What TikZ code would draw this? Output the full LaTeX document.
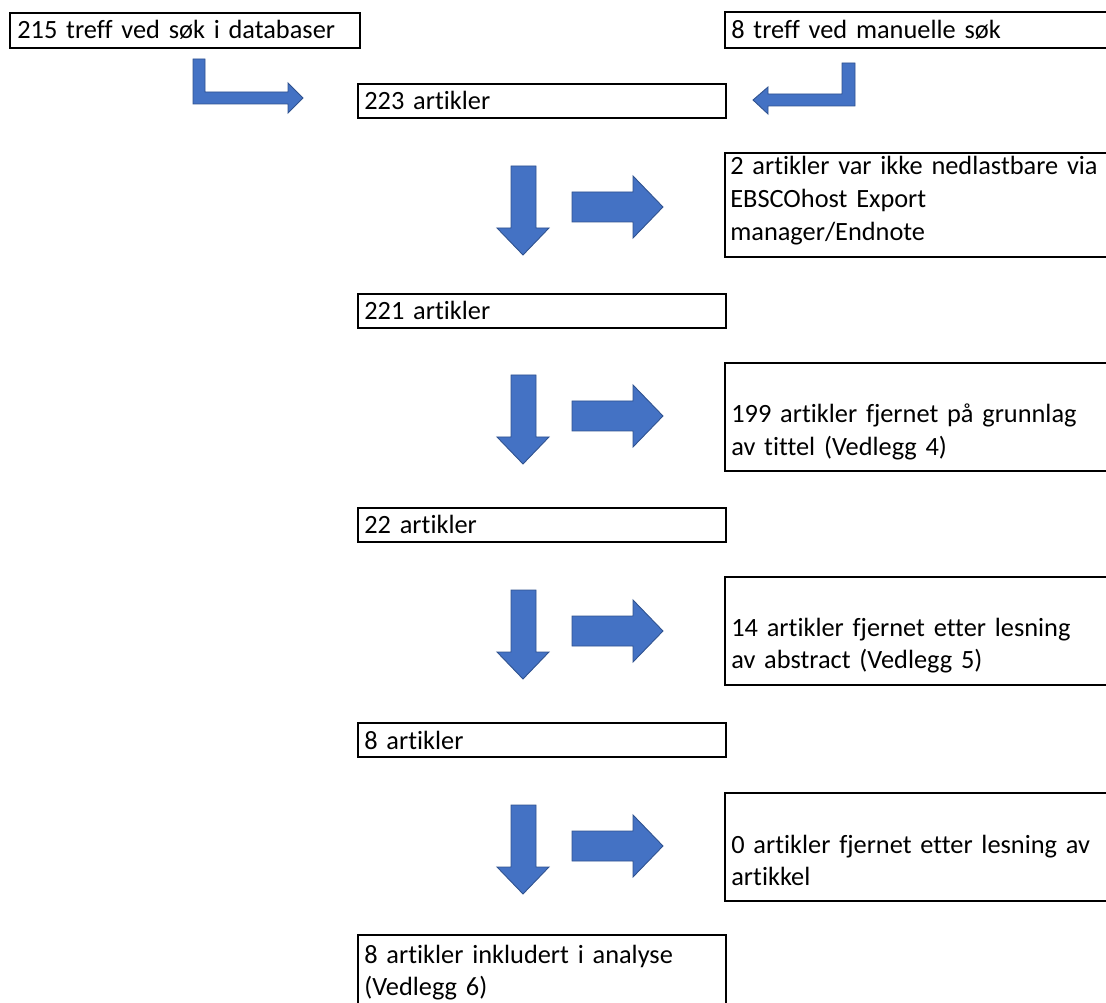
\documentclass[tikz,border=0pt]{standalone}
\usepackage{fontspec}
\setmainfont{Carlito}[Ligatures=NoCommon]
\definecolor{arrowblue}{HTML}{4472C4}
\definecolor{arrowedge}{HTML}{2F528F}
\begin{document}
\begin{tikzpicture}[x=0.02cm, y=-0.02cm, line join=miter,
    box/.style={draw=black, line width=0.8pt, inner sep=0pt, outer sep=0pt, anchor=north west},
    lbox/.style={box, minimum width=7.36cm, minimum height=0.68cm},
    rbox/.style={box, minimum width=8cm, minimum height=2.16cm},
    txt/.style={anchor=base west, inner sep=0pt, align=left, text width=7.8cm,
      font={\fontsize{15pt}{18.7pt}\selectfont}},
    blk/.style={fill=arrowblue, draw=arrowedge, line width=0.5pt}]
  \useasboundingbox (0,0) rectangle (1106,1003);
  % innhenting
  \node[box, minimum width=7cm, minimum height=0.7cm] (db) at (10,13) {};
  \node[txt] (dbt) at ([shift={(7,26)}]db.north west) {215 treff ved søk i databaser};
  \node[box, minimum width=8cm, minimum height=0.72cm] (man) at (725,12) {};
  \node[txt] (mant) at ([shift={(6,27)}]man.north west) {8 treff ved manuelle søk};
  \draw[blk] (193,59) -- (205,59) -- (205,92) -- (288,92) -- (288,83) -- (303,98)
    -- (288,113) -- (288,104) -- (193,104) -- cycle;
  \draw[blk] (842,63) -- (855,63) -- (855,106) -- (768,106) -- (768,114) -- (753,100)
    -- (768,87) -- (768,94) -- (842,94) -- cycle;
  % venstre kolonne
  \node[lbox] (a223) at (358,84) {};
  \node[txt] (a223t) at ([shift={(6,26)}]a223.north west) {223 artikler};
  \node[lbox] (a221) at (358,294) {};
  \node[txt] (a221t) at ([shift={(6,26)}]a221.north west) {221 artikler};
  \node[lbox] (a22) at (358,508) {};
  \node[txt] (a22t) at ([shift={(6,26)}]a22.north west) {22 artikler};
  \node[lbox] (a8) at (358,723) {};
  \node[txt] (a8t) at ([shift={(6,26)}]a8.north west) {8 artikler};
  \node[lbox, minimum height=1.6cm] (incl) at (358,935) {};
  \node[txt] (inclt) at ([shift={(6,28)}]incl.north west) {8 artikler inkludert i analyse\\(Vedlegg 6)};
  % høyre kolonne
  \node[rbox, minimum height=2.08cm] (x2) at (725,153) {};
  \node[txt] (x2t) at ([shift={(5,22)}]x2.north west) {2 artikler var ikke nedlastbare via\\EBSCOhost Export\\manager/Endnote};
  \node[rbox] (x199) at (725,363) {};
  \node[txt] (x199t) at ([shift={(6,60)}]x199.north west) {199 artikler fjernet på grunnlag\\av tittel (Vedlegg 4)};
  \node[rbox] (x14) at (725,577) {};
  \node[txt] (x14t) at ([shift={(6,59)}]x14.north west) {14 artikler fjernet etter lesning\\av abstract (Vedlegg 5)};
  \node[rbox] (x0) at (725,793) {};
  \node[txt] (x0t) at ([shift={(6,60)}]x0.north west) {0 artikler fjernet etter lesning av\\artikkel};
  % piler
  \foreach \dy in {0,209,424,639} {
    \begin{scope}[shift={(0,\dy)}]
      \draw[blk] (511,166) -- (536,166) -- (536,228) -- (549,228) -- (523,255)
        -- (497,228) -- (511,228) -- cycle;
      \draw[blk] (572,192) -- (633,192) -- (633,176) -- (663,207) -- (633,238)
        -- (633,222) -- (572,222) -- cycle;
    \end{scope}
  }
\end{tikzpicture}
\end{document}
